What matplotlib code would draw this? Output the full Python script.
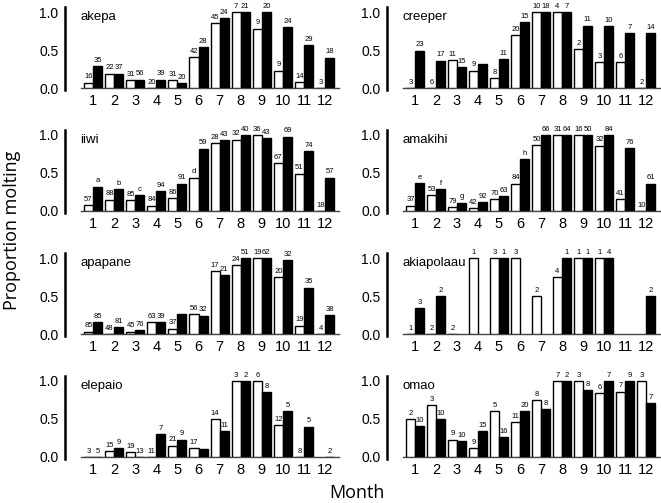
import numpy as np
import matplotlib
matplotlib.use("Agg")
import matplotlib.pyplot as plt

plt.rcParams['font.family'] = ['Liberation Sans', 'DejaVu Sans']

months = np.arange(1, 13)
nan = np.nan

# proportion molting, white = first series, black = second series
species = ["akepa", "creeper", "iiwi", "amakihi",
           "apapane", "akiapolaau", "elepaio", "omao"]

akepa_w = [0.07, 0.19, 0.10, 0.0, 0.10, 0.41, 0.85, 1.0, 0.78, 0.23, 0.08, 0.0]
akepa_b = [0.29, 0.19, 0.11, 0.11, 0.06, 0.54, 0.92, 1.0, 1.0, 0.80, 0.56, 0.40]
akepa_nw = ["16", "22", "31", "20", "31", "42", "45", "7", "9", "9", "14", "3"]
akepa_nb = ["35", "37", "56", "39", "20", "28", "24", "21", "20", "24", "29", "18"]

creeper_w = [0.0, 0.0, 0.37, 0.23, 0.13, 0.70, 1.0, 1.0, 0.51, 0.34, 0.34, 0.0]
creeper_b = [0.49, 0.36, 0.27, 0.31, 0.38, 0.87, 1.0, 1.0, 0.82, 0.81, 0.72, 0.72]
creeper_nw = ["3", "6", "11", "9", "8", "20", "10", "4", "2", "3", "6", "2"]
creeper_nb = ["23", "17", "15", "", "11", "15", "18", "7", "11", "10", "7", "14"]

iiwi_w = [0.08, 0.15, 0.14, 0.07, 0.17, 0.44, 0.89, 0.94, 1.0, 0.63, 0.49, 0.0]
iiwi_b = [0.32, 0.29, 0.21, 0.26, 0.36, 0.82, 0.93, 1.0, 0.96, 0.98, 0.79, 0.44]
iiwi_nw = ["57", "88", "85", "84", "86", "d", "28", "32", "36", "67", "51", "18"]
iiwi_nb = ["a", "b", "c", "94", "91", "59", "43", "40", "43", "69", "74", "57"]

amakihi_w = [0.07, 0.21, 0.05, 0.04, 0.16, 0.36, 0.87, 1.0, 1.0, 0.86, 0.16, 0.0]
amakihi_b = [0.37, 0.29, 0.11, 0.12, 0.20, 0.68, 1.0, 1.0, 1.0, 1.0, 0.83, 0.36]
amakihi_nw = ["37", "53", "79", "42", "70", "84", "50", "31", "16", "32", "41", "10"]
amakihi_nb = ["e", "f", "g", "92", "63", "h", "66", "64", "50", "84", "76", "61"]

apapane_w = [0.03, 0.0, 0.03, 0.16, 0.07, 0.26, 0.83, 0.91, 1.0, 0.75, 0.11, 0.0]
apapane_b = [0.16, 0.09, 0.05, 0.16, 0.26, 0.24, 0.77, 1.0, 1.0, 0.97, 0.61, 0.25]
apapane_nw = ["85", "48", "45", "63", "37", "56", "17", "24", "19", "20", "19", "4"]
apapane_nb = ["85", "81", "76", "39", "", "32", "21", "51", "62", "32", "35", "38"]

akiapolaau_w = [0.0, 0.0, 0.0, 1.0, 1.0, 1.0, 0.50, 0.75, 1.0, 1.0, nan, nan]
akiapolaau_b = [0.34, 0.50, nan, nan, 1.0, nan, nan, 1.0, 1.0, 1.0, nan, 0.50]
akiapolaau_nw = ["1", "2", "2", "1", "3", "3", "2", "4", "1", "1", "", ""]
akiapolaau_nb = ["3", "2", "", "", "1", "", "", "1", "1", "4", "", "2"]

elepaio_w = [0.0, 0.075, 0.06, 0.0, 0.15, 0.12, 0.50, 1.0, 1.0, 0.42, 0.0, nan]
elepaio_b = [0.0, 0.12, 0.0, 0.30, 0.23, 0.10, 0.34, 1.0, 0.85, 0.60, 0.40, 0.0]
elepaio_nw = ["3", "15", "19", "11", "21", "17", "14", "3", "6", "12", "8", ""]
elepaio_nb = ["5", "9", "13", "7", "9", "", "11", "2", "8", "5", "5", "2"]

omao_w = [0.50, 0.68, 0.23, 0.12, 0.60, 0.46, 0.75, 1.0, 1.0, 0.84, 0.86, 1.0]
omao_b = [0.41, 0.50, 0.21, 0.34, 0.26, 0.60, 0.63, 1.0, 0.88, 1.0, 1.0, 0.71]
omao_nw = ["2", "3", "9", "9", "5", "11", "8", "7", "3", "6", "7", "3"]
omao_nb = ["10", "10", "10", "15", "16", "20", "8", "2", "8", "7", "9", "7"]

white_vals = [akepa_w, creeper_w, iiwi_w, amakihi_w,
              apapane_w, akiapolaau_w, elepaio_w, omao_w]
black_vals = [akepa_b, creeper_b, iiwi_b, amakihi_b,
              apapane_b, akiapolaau_b, elepaio_b, omao_b]
white_n = [akepa_nw, creeper_nw, iiwi_nw, amakihi_nw,
           apapane_nw, akiapolaau_nw, elepaio_nw, omao_nw]
black_n = [akepa_nb, creeper_nb, iiwi_nb, amakihi_nb,
           apapane_nb, akiapolaau_nb, elepaio_nb, omao_nb]

W, H = 661, 503
fig = plt.figure(figsize=(W / 100, H / 100), dpi=100)

# pixel layout of each panel
col_m1 = [93, 415]      # x pixel of month 1
col_step = [21.1, 21.0]  # pixels per month
row_zero = [88, 211, 334, 457]  # y pixel of 0.0
scale = 76               # pixels per 1.0
ytop = 1.15
x0, x1 = 0.35, 12.65
bw = 0.43

for i, name in enumerate(species):
    r, c = i // 2, i % 2
    left = col_m1[c] - (1 - x0) * col_step[c]
    width = (x1 - x0) * col_step[c]
    bottom = H - row_zero[r]
    height = ytop * scale
    ax = fig.add_axes([left / W, bottom / H, width / W, height / H])

    w = np.array(white_vals[i], dtype=float)
    b = np.array(black_vals[i], dtype=float)
    okw = ~np.isnan(w)
    okb = ~np.isnan(b)
    ax.bar(months[okw] - bw / 2, w[okw], width=bw, color="white",
           edgecolor="black", linewidth=1.0, zorder=2)
    ax.bar(months[okb] + bw / 2, b[okb], width=bw, color="black",
           edgecolor="black", linewidth=1.0, zorder=2)
    ax.plot([x0 + 0.1, x1], [0, 0], color="#444444", lw=1.0, zorder=1,
            clip_on=False)

    # sample sizes above bars
    for m, v, t in zip(months, w, white_n[i]):
        if t:
            y = 0 if np.isnan(v) else v
            ax.text(m - bw / 2, y + 0.03, t, ha="center", va="bottom",
                    fontsize=5.5, clip_on=False)
    for m, v, t in zip(months, b, black_n[i]):
        if t:
            y = 0 if np.isnan(v) else v
            ax.text(m + bw / 2, y + 0.03, t, ha="center", va="bottom",
                    fontsize=5.5, clip_on=False)

    ax.text(0.4, 0.93, name, ha="left", va="center", fontsize=9.5)

    ax.set_xlim(x0, x1)
    ax.set_ylim(0, ytop)
    ax.set_xticks(months)
    ax.set_xticklabels([str(m) for m in months], fontsize=10.5)
    ax.set_yticks([0, 0.5, 1.0])
    ax.set_yticklabels(["0.0", "0.5", "1.0"], fontsize=10.5)
    ax.tick_params(axis="x", length=0, pad=4)
    ax.tick_params(axis="y", length=0, pad=5)
    for s in ["top", "right", "bottom"]:
        ax.spines[s].set_visible(False)
    ax.spines["left"].set_position(("outward", 10))
    ax.spines["left"].set_bounds(-0.02, 1.06)
    ax.spines["left"].set_linewidth(1.8)

fig.text(12 / W, 1 - 230 / H, "Proportion molting", rotation=90,
         ha="center", va="center", fontsize=13, family=["Open Sans", "DejaVu Sans"])
fig.text(357 / W, 1 - 493 / H, "Month", ha="center", va="center",
         fontsize=13, family=["Open Sans", "DejaVu Sans"])

fig.savefig("out.png", dpi=100)
